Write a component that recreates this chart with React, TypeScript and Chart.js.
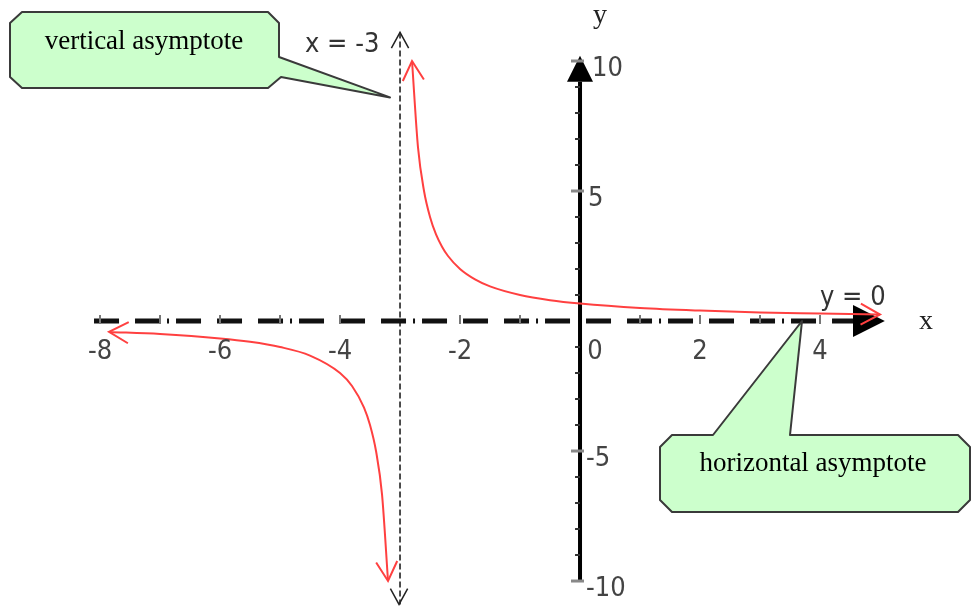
import React, { useEffect, useRef } from "react";
import { Chart, registerables } from "chart.js";

Chart.register(...registerables);

// Right branch of the curve (x > -3)
const rightX = [-2.8, -2.7, -2.6, -2.5, -2.4, -2.3, -2.2, -2.0, -1.75, -1.5, -1.0, -0.5, 0, 1, 2, 3, 4, 5];
const rightY = [10, 6.67, 5, 4, 3.33, 2.86, 2.5, 2, 1.6, 1.33, 1, 0.8, 0.67, 0.5, 0.4, 0.33, 0.29, 0.25];
// Left branch (x < -3)
const leftX = [-7.85, -7, -6, -5.5, -5, -4.5, -4, -3.8, -3.6, -3.5, -3.4, -3.3, -3.2];
const leftY = [-0.42, -0.5, -0.67, -0.8, -1, -1.33, -2, -2.5, -3.33, -4, -5, -6.67, -10];

const xTickLabels = ["-8", "-6", "-4", "-2", "0", "2", "4"];
const xTickValues = [-8, -6, -4, -2, 0, 2, 4];
const yTickLabels = ["10", "5", "-5", "-10"];
const yTickValues = [10, 5, -5, -10];
const asymptoteX = -3;
const asymptoteY = 0;

const SANS = "'Liberation Sans Narrow', 'DejaVu Sans Condensed', 'Liberation Sans', sans-serif";
const SERIF = "'Liberation Serif', 'DejaVu Serif', serif";

function chevron(ctx: CanvasRenderingContext2D, tx: number, ty: number, ang: number, len: number, spread: number) {
  ctx.beginPath();
  ctx.moveTo(tx - len * Math.cos(ang - spread), ty - len * Math.sin(ang - spread));
  ctx.lineTo(tx, ty);
  ctx.lineTo(tx - len * Math.cos(ang + spread), ty - len * Math.sin(ang + spread));
  ctx.stroke();
}

function callout(ctx: CanvasRenderingContext2D, pts: number[][]) {
  ctx.save();
  ctx.beginPath();
  ctx.moveTo(pts[0][0], pts[0][1]);
  for (let i = 1; i < pts.length; i++) ctx.lineTo(pts[i][0], pts[i][1]);
  ctx.closePath();
  ctx.fillStyle = "#ccffcc";
  ctx.fill();
  ctx.lineWidth = 2;
  ctx.strokeStyle = "#3a3a3a";
  ctx.lineJoin = "round";
  ctx.stroke();
  ctx.restore();
}

const drawPlugin = {
  id: "mathDecor",
  beforeDatasetsDraw(chart: any) {
    const ctx: CanvasRenderingContext2D = chart.ctx;
    const xs = chart.scales.x;
    const ys = chart.scales.y;
    const X = (v: number) => xs.getPixelForValue(v);
    const Y = (v: number) => ys.getPixelForValue(v);
    ctx.save();

    // vertical asymptote (dashed)
    ctx.strokeStyle = "#222";
    ctx.lineWidth = 1.6;
    ctx.setLineDash([6, 3]);
    ctx.beginPath();
    ctx.moveTo(X(asymptoteX), Y(11.1));
    ctx.lineTo(X(asymptoteX), Y(-10.9));
    ctx.stroke();
    ctx.setLineDash([]);
    ctx.lineWidth = 1.5;
    chevron(ctx, X(asymptoteX), Y(11.1), -Math.PI / 2, 18, 0.5);
    chevron(ctx, X(asymptoteX) - 1, Y(-10.9), Math.PI / 2, 18, 0.5);

    // x axis (dash-dot)
    ctx.strokeStyle = "#111";
    ctx.lineWidth = 5;
    ctx.setLineDash([25, 16, 25, 7, 2, 7, 25, 16]);
    ctx.beginPath();
    ctx.moveTo(X(-8.1), Y(asymptoteY));
    ctx.lineTo(X(4.6), Y(asymptoteY));
    ctx.stroke();
    ctx.setLineDash([]);
    ctx.fillStyle = "#000";
    ctx.beginPath();
    ctx.moveTo(X(5.08), Y(0));
    ctx.lineTo(X(4.55), Y(0) - 16);
    ctx.lineTo(X(4.55), Y(0) + 16);
    ctx.closePath();
    ctx.fill();

    // x ticks
    ctx.strokeStyle = "#777";
    ctx.lineWidth = 2;
    for (let v = -8; v <= 4; v++) {
      if (v === 0 || v === -3) continue;
      ctx.beginPath();
      ctx.moveTo(X(v), Y(0) - 6);
      ctx.lineTo(X(v), Y(0) + 3);
      ctx.stroke();
    }

    // y axis
    ctx.strokeStyle = "#000";
    ctx.lineWidth = 4;
    ctx.beginPath();
    ctx.moveTo(X(0), Y(9.2));
    ctx.lineTo(X(0), Y(-10));
    ctx.stroke();
    ctx.fillStyle = "#000";
    ctx.beginPath();
    ctx.moveTo(X(0), Y(10.2));
    ctx.lineTo(X(0) - 13, Y(9.2));
    ctx.lineTo(X(0) + 13, Y(9.2));
    ctx.closePath();
    ctx.fill();
    for (let v = -10; v <= 10; v++) {
      if (v === 0) continue;
      const major = v % 5 === 0;
      ctx.lineWidth = major ? 3 : 2;
      ctx.strokeStyle = major ? "#888" : "#333";
      ctx.beginPath();
      ctx.moveTo(X(0) - (major ? 9 : 5), Y(v));
      ctx.lineTo(X(0) + (major ? 4 : 0), Y(v));
      ctx.stroke();
    }
    ctx.restore();
  },
  afterDatasetsDraw(chart: any) {
    const ctx: CanvasRenderingContext2D = chart.ctx;
    const xs = chart.scales.x;
    const ys = chart.scales.y;
    const X = (v: number) => xs.getPixelForValue(v);
    const Y = (v: number) => ys.getPixelForValue(v);
    ctx.save();

    // curve end arrows
    ctx.strokeStyle = "#ff4040";
    ctx.lineWidth = 2;
    const endArrow = (xa: number[], ya: number[], first: boolean) => {
      const n = xa.length;
      const i0 = first ? 0 : n - 1;
      const i1 = first ? 1 : n - 2;
      const tx = X(xa[i0]), ty = Y(ya[i0]);
      const ang = Math.atan2(ty - Y(ya[i1]), tx - X(xa[i1]));
      chevron(ctx, tx, ty, ang, 22, 0.5);
    };
    endArrow(rightX, rightY, true);
    endArrow(rightX, rightY, false);
    endArrow(leftX, leftY, true);
    endArrow(leftX, leftY, false);

    // tick labels
    ctx.fillStyle = "#444";
    ctx.font = `27px ${SANS}`;
    ctx.textBaseline = "middle";
    ctx.textAlign = "center";
    xTickValues.forEach((v, i) => {
      const dx = v === 0 ? 15 : 0;
      ctx.fillText(xTickLabels[i], X(v) + dx, Y(0) + 31);
    });
    ctx.textAlign = "left";
    yTickValues.forEach((v, i) => {
      ctx.fillText(yTickLabels[i], X(0) + (v > 0 ? (v === 10 ? 12 : 8) : 6), Y(v) + 8);
    });

    // axis titles
    ctx.fillStyle = "#222";
    ctx.font = `28px ${SERIF}`;
    ctx.textAlign = "center";
    ctx.fillText("y", X(0) + 20, 16);
    ctx.fillText("x", 926, Y(0) + 1);

    // equation labels
    ctx.fillStyle = "#333";
    ctx.font = `27px ${SANS}`;
    ctx.textAlign = "left";
    ctx.fillText("x = -3", 305, 45);
    ctx.fillText("y = 0", 820, 298);

    // callouts
    callout(ctx, [
      [22, 12], [268, 12], [279, 23], [279, 57], [X(-3) - 10, Y(8.6)], [281, 77], [268, 88],
      [22, 88], [10, 77], [10, 23],
    ]);
    callout(ctx, [
      [672, 435], [713, 435], [X(3.7), Y(0)], [790, 435], [958, 435], [970, 447], [970, 500],
      [958, 512], [672, 512], [660, 500], [660, 447],
    ]);
    ctx.fillStyle = "#000";
    ctx.font = `27px ${SERIF}`;
    ctx.textAlign = "center";
    ctx.fillText("vertical asymptote", 144, 42);
    ctx.fillText("horizontal asymptote", 813, 464);
    ctx.restore();
  },
};

export default function App() {
  const ref = useRef<HTMLCanvasElement | null>(null);
  useEffect(() => {
    if (!ref.current) return;
    const chart = new Chart(ref.current, {
      type: "scatter",
      data: {
        datasets: [
          {
            data: rightX.map((x, i) => ({ x, y: rightY[i] })),
            showLine: true,
            borderColor: "#ff4040",
            borderWidth: 2,
            pointRadius: 0,
            cubicInterpolationMode: "monotone",
          },
          {
            data: leftX.map((x, i) => ({ x, y: leftY[i] })),
            showLine: true,
            borderColor: "#ff4040",
            borderWidth: 2,
            pointRadius: 0,
            cubicInterpolationMode: "monotone",
          },
        ],
      },
      options: {
        responsive: false,
        animation: false,
        layout: { padding: 0 },
        plugins: { legend: { display: false }, tooltip: { enabled: false } },
        scales: {
          x: { type: "linear", min: -9.667, max: 6.583, display: false },
          y: { type: "linear", min: -11.23, max: 12.346, display: false },
        },
      },
      plugins: [drawPlugin],
    } as any);
    return () => chart.destroy();
  }, []);
  return (
    <div style={{ position: "fixed", left: 0, top: 0, width: 975, height: 613, background: "#fff" }}>
      <canvas ref={ref} width={975} height={613} />
    </div>
  );
}
